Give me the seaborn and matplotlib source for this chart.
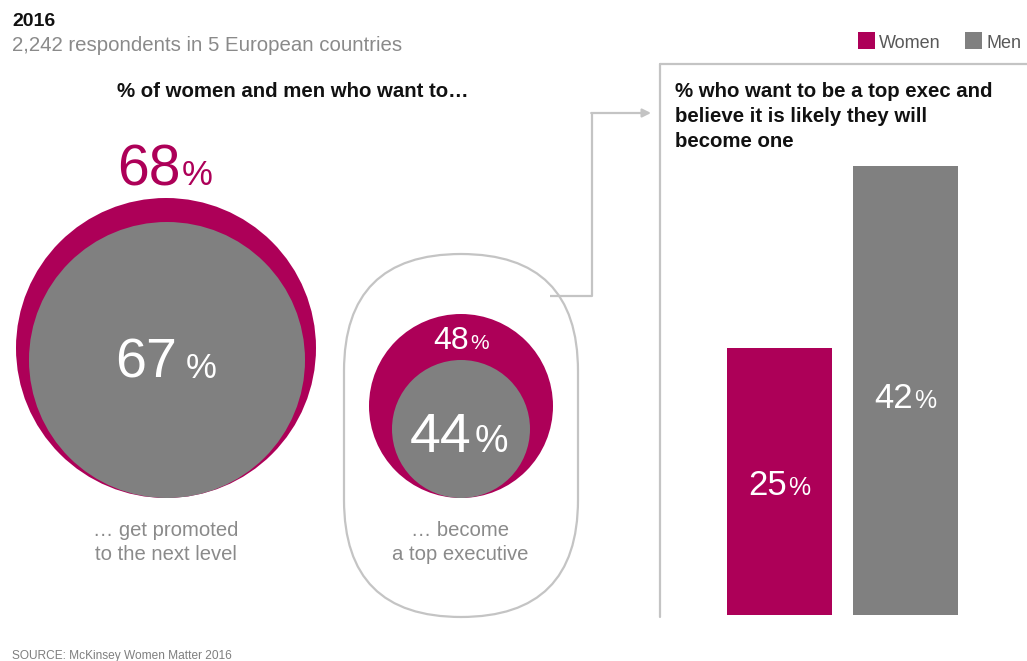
import matplotlib
matplotlib.use("Agg")
import matplotlib.pyplot as plt
import seaborn as sns
import pandas as pd
from matplotlib.patches import Circle, FancyBboxPatch, Rectangle
from matplotlib.transforms import offset_copy

# ---------------- data ----------------
groups = ["Women", "Men"]
promoted = [68, 67]          # % who want to get promoted to the next level
top_exec = [48, 44]          # % who want to become a top executive
likely = [25, 42]            # % who want to be top exec and believe it is likely

title_year = "2016"
subtitle = "2,242 respondents in 5 European countries"
left_title = "% of women and men who want to\u2026"
right_title = ["% who want to be a top exec and", "believe it is likely they will", "become one"]
caption_promoted = ["\u2026 get promoted", "to the next level"]
caption_exec = ["\u2026 become", "a top executive"]
source = "SOURCE: McKinsey Women Matter 2016"

MAGENTA = "#AD0058"
GREY = "#808080"
LINE = "#C4C4C4"
TXT_GREY = "#8A8A8A"
palette = {"Women": MAGENTA, "Men": GREY}

# ---------------- setup ----------------
sns.set_style("white")
plt.rcParams["font.family"] = ["Liberation Sans", "DejaVu Sans"]

W, H = 1027, 661
fig = plt.figure(figsize=(W / 100, H / 100), dpi=100)
ax = fig.add_axes([0, 0, 1, 1])
ax.set_xlim(0, W)
ax.set_ylim(H, 0)
ax.axis("off")
renderer = fig.canvas.get_renderer()


def pct_label(axis, x, y, num, nsize, psize, color, gap=4):
    t1 = axis.text(x, y, num, ha="right", va="baseline", fontsize=nsize, color=color)
    t2 = axis.text(x, y, "%", ha="left", va="baseline", fontsize=psize, color=color)
    w1 = t1.get_window_extent(renderer).width
    w2 = t2.get_window_extent(renderer).width
    dx = (w1 - gap - w2) / 2
    t1.set_transform(offset_copy(axis.transData, fig=fig, x=dx, y=0, units="dots"))
    t2.set_transform(offset_copy(axis.transData, fig=fig, x=dx + gap, y=0, units="dots"))


# ---------------- header ----------------
ax.text(12, 26, title_year, fontsize=14, fontweight="bold", color="#111111", va="baseline")
ax.text(12, 51, subtitle, fontsize=14.7, color=TXT_GREY, va="baseline")
ax.text(293, 97, left_title, fontsize=14.7, fontweight="bold", color="#111111",
        ha="center", va="baseline")

# legend
for (lx, name) in [(858, groups[0]), (965, groups[1])]:
    ax.add_patch(Rectangle((lx, 32), 17, 17, color=palette[name], lw=0))
    ax.text(lx + 21, 48, name, fontsize=13, color="#595959", va="baseline")

# ---------------- circles: promoted ----------------
ax.add_patch(Circle((166, 348), 150, color=MAGENTA, lw=0))
ax.add_patch(Circle((167, 360), 138, color=GREY, lw=0))
pct_label(ax, 165, 185, str(promoted[0]), 41, 25, MAGENTA, gap=1)
pct_label(ax, 166, 378, str(promoted[1]), 40, 25, "white", gap=8)
for i, line in enumerate(caption_promoted):
    ax.text(166, 536 + 24 * i, line, fontsize=14.6, color=TXT_GREY, ha="center", va="baseline")

# ---------------- capsule + circles: top exec ----------------
ax.add_patch(FancyBboxPatch((344, 254), 234, 363,
                            boxstyle="round,pad=0,rounding_size=117",
                            fc="none", ec=LINE, lw=1.6))
ax.add_patch(Circle((461, 406), 92, color=MAGENTA, lw=0))
ax.add_patch(Circle((461, 429), 69, color=GREY, lw=0))
pct_label(ax, 461, 349, str(top_exec[0]), 23, 15, "white", gap=1)
pct_label(ax, 459, 452, str(top_exec[1]), 40, 27, "white", gap=3)
for i, line in enumerate(caption_exec):
    ax.text(460, 536 + 24 * i, line, fontsize=14.6, color=TXT_GREY, ha="center", va="baseline")

# connector
ax.plot([550, 592, 592], [296, 296, 113], color=LINE, lw=1.6, solid_capstyle="butt")
ax.annotate("", xy=(651, 113), xytext=(591.2, 113),
            arrowprops=dict(arrowstyle="-|>,head_length=0.5,head_width=0.25",
                            color=LINE, lw=1.6, shrinkA=0, shrinkB=0))

# right box
ax.plot([660, 660], [617, 64], color=LINE, lw=1.6)
ax.plot([660, W + 5], [64, 64], color=LINE, lw=1.6)
for i, line in enumerate(right_title):
    ax.text(675, 97 + 25 * i, line, fontsize=14.7, fontweight="bold", color="#111111",
            va="baseline")

# ---------------- bars ----------------
bx0, bx1 = 716.5, 968.5
by0, by1 = 615, 166
bax = fig.add_axes([bx0 / W, (H - by0) / H, (bx1 - bx0) / W, (by0 - by1) / H])
df = pd.DataFrame({"group": groups, "value": likely})
sns.barplot(data=df, x="group", y="value", hue="group", palette=palette,
            width=0.833, legend=False, ax=bax, saturation=1, linewidth=0)
bax.set_xlim(-0.5, 1.5)
bax.set_ylim(0, max(likely))
bax.axis("off")
bax.patch.set_alpha(0)
for i, v in enumerate(likely):
    pct_label(bax, i, v * 0.46 if i == 1 else v * 0.45, str(v), 25, 18, "white", gap=1)

# ---------------- source ----------------
ax.text(12, 659, source, fontsize=8.6, color="#7F7F7F", va="baseline")

fig.savefig("out.png", dpi=100)
